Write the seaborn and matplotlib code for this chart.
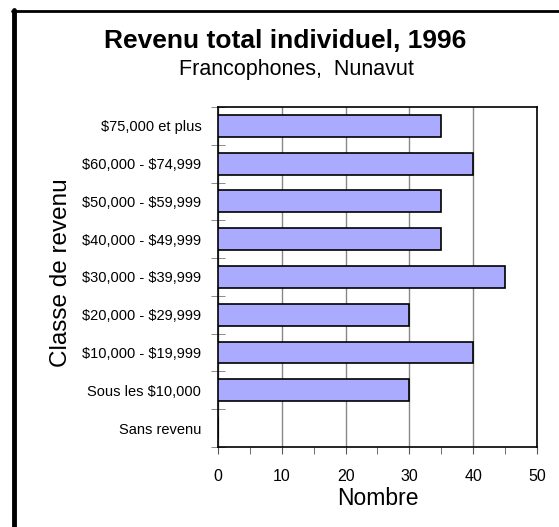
import matplotlib
matplotlib.use("Agg")
import matplotlib.pyplot as plt
from matplotlib.lines import Line2D
import pandas as pd
import seaborn as sns

# income classes, top to bottom as shown
categories = ["$75,000 et plus", "$60,000 - $74,999", "$50,000 - $59,999",
              "$40,000 - $49,999", "$30,000 - $39,999", "$20,000 - $29,999",
              "$10,000 - $19,999", "Sous les $10,000", "Sans revenu"]
counts = [35, 40, 35, 35, 45, 30, 40, 30, 0]
xticks = [0, 10, 20, 30, 40, 50]

df = pd.DataFrame({"classe": categories, "nombre": counts})

sns.set_style("white")
plt.rcParams['font.family'] = ['Liberation Sans', 'DejaVu Sans']
plt.rcParams['text.parse_math'] = False
plt.rcParams['text.color'] = 'black'
plt.rcParams['axes.labelcolor'] = 'black'
plt.rcParams['xtick.color'] = 'black'
plt.rcParams['ytick.color'] = 'black'

fig = plt.figure(figsize=(5.59, 5.27), dpi=100)
ax = fig.add_axes([0.39, 0.152, 0.5706, 0.645])

sns.barplot(ax=ax, data=df, x="nombre", y="classe", orient="h",
            color="#aaaaff", saturation=1, width=0.58,
            edgecolor="black", linewidth=1.2, zorder=3)

ax.set_xlim(0, 50)
ax.set_xticks(xticks)
ax.set_xticks(range(0, 51, 5), minor=True)
ax.xaxis.grid(True, color="#888888", linewidth=1, zorder=0)
ax.set_axisbelow(True)
ax.tick_params(axis="x", which="both", bottom=True, direction="out",
               length=5, color="#555555", labelsize=11.5, pad=11)

n = len(categories)
ax.set_ylim(n - 0.5, -0.5)
ax.set_yticks([i - 0.5 for i in range(n + 1)], minor=True)
ax.tick_params(axis="y", which="major", left=False, length=0,
               labelsize=10.5, pad=12)
ax.tick_params(axis="y", which="minor", left=True, direction="inout",
               length=10, color="#777777")

for s in ax.spines.values():
    s.set_visible(True)
    s.set_color("black")
    s.set_linewidth(1.2)

ax.set_xlabel("Nombre", fontsize=16.5, labelpad=2)
ax.set_ylabel("Classe de revenu", fontsize=17.5)
ax.yaxis.set_label_coords(-0.458, 0.512)

fig.text(0.51, 0.909, "Revenu total individuel, 1996", ha="center",
         va="baseline", fontsize=19, fontweight="bold")
fig.text(0.531, 0.858, "Francophones,  Nunavut", ha="center",
         va="baseline", fontsize=15.5)

# outer frame (left and top only)
fig.add_artist(Line2D([0.025, 0.025], [0, 0.981], color="black",
                      linewidth=3.5, transform=fig.transFigure))
fig.add_artist(Line2D([0.022, 1.0], [0.980, 0.980], color="black",
                      linewidth=2, transform=fig.transFigure))

fig.savefig("out.png", dpi=100)
